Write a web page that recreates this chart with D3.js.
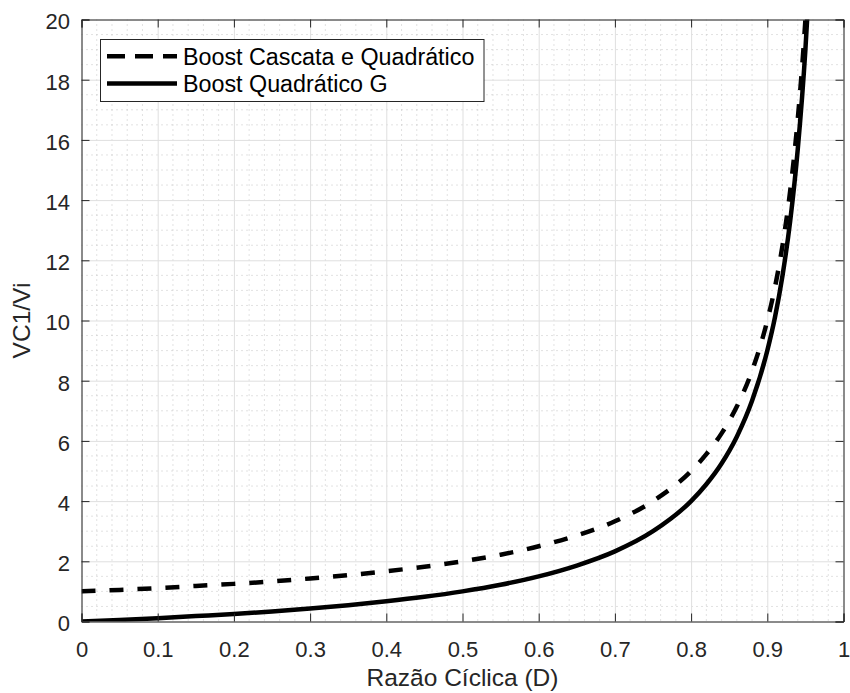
<!DOCTYPE html>
<html>
<head>
<meta charset="utf-8">
<script src="https://cdn.jsdelivr.net/npm/d3@7"></script>
<style>
  body { margin: 0; background: #fff; }
  svg { font-family: "Liberation Sans", Arial, sans-serif; }
</style>
</head>
<body>
<div class="chart"></div>
<script>
// duty cycle samples (x)
const dutyCycle = [0, 0.05, 0.1, 0.15, 0.2, 0.25, 0.3, 0.35, 0.4, 0.45, 0.5, 0.55, 0.6, 0.65, 0.7, 0.75, 0.8, 0.82, 0.84, 0.86, 0.88, 0.9, 0.91, 0.92, 0.93, 0.94, 0.95, 0.955];
const cascata = [1.00, 1.05, 1.11, 1.18, 1.25, 1.33, 1.43, 1.54, 1.67, 1.82, 2.00, 2.22, 2.50, 2.86, 3.33, 4.00, 5.00, 5.56, 6.25, 7.14, 8.33, 10.0, 11.1, 12.5, 14.3, 16.7, 20.0, 22.2];
const quadraticoG = [0, 0.05, 0.11, 0.18, 0.25, 0.33, 0.43, 0.54, 0.67, 0.82, 1.00, 1.22, 1.50, 1.86, 2.33, 3.00, 4.00, 4.56, 5.25, 6.14, 7.33, 9.00, 10.1, 11.5, 13.3, 15.7, 19.0, 21.2];
const seriesNames = ["Boost Cascata e Quadrático", "Boost Quadrático G"];
const xTicks = [0, 0.1, 0.2, 0.3, 0.4, 0.5, 0.6, 0.7, 0.8, 0.9, 1];
const yTicks = [0, 2, 4, 6, 8, 10, 12, 14, 16, 18, 20];

const width = 850, height = 693;
const margin = {left: 81.5, right: 6.5, top: 19.5, bottom: 71.5};
const plotW = width - margin.left - margin.right, plotH = height - margin.top - margin.bottom;
const axisColor = "#262626";

const x = d3.scaleLinear().domain([0, 1]).range([0, plotW]);
const y = d3.scaleLinear().domain([0, 20]).range([plotH, 0]);

const svg = d3.select(".chart").append("svg")
    .attr("width", width)
    .attr("height", height);

svg.append("defs").append("clipPath").attr("id", "clip")
  .append("rect").attr("width", plotW).attr("height", plotH);

const g = svg.append("g")
    .attr("transform", "translate(" + [margin.left, margin.top] + ")");

// minor grid (dotted)
const xMinor = d3.range(0, 1.0001, 0.02).filter(v => Math.abs(v * 10 - Math.round(v * 10)) > 1e-6);
const yMinor = d3.range(0, 20.0001, 0.5).filter(v => Math.abs(v / 2 - Math.round(v / 2)) > 1e-6);

g.selectAll("line.xminor")
    .data(xMinor)
  .enter().append("line")
    .attr("class", "xminor")
    .attr("x1", d => x(d)).attr("x2", d => x(d))
    .attr("y1", 0).attr("y2", plotH)
    .attr("stroke", "#c4c4c4")
    .attr("stroke-dasharray", "1,4");

g.selectAll("line.yminor")
    .data(yMinor)
  .enter().append("line")
    .attr("class", "yminor")
    .attr("y1", d => y(d)).attr("y2", d => y(d))
    .attr("x1", 0).attr("x2", plotW)
    .attr("stroke", "#c4c4c4")
    .attr("stroke-dasharray", "1,4");

// major grid
g.append("g")
    .attr("transform", "translate(0," + plotH + ")")
    .call(d3.axisBottom(x).tickValues(xTicks).tickSize(-plotH).tickFormat(""))
    .call(a => a.select(".domain").remove())
    .call(a => a.selectAll("line").attr("stroke", "#dfdfdf"));

g.append("g")
    .call(d3.axisLeft(y).tickValues(yTicks).tickSize(-plotW).tickFormat(""))
    .call(a => a.select(".domain").remove())
    .call(a => a.selectAll("line").attr("stroke", "#dfdfdf"));

// curves
const line = d3.line()
    .x((d, i) => x(dutyCycle[i]))
    .y(d => y(d))
    .curve(d3.curveMonotoneX);

const curves = g.append("g").attr("clip-path", "url(#clip)");

curves.append("path")
    .attr("d", line(quadraticoG))
    .attr("fill", "none")
    .attr("stroke", "#000")
    .attr("stroke-width", 4.5);

curves.append("path")
    .attr("d", line(cascata))
    .attr("fill", "none")
    .attr("stroke", "#000")
    .attr("stroke-width", 4.5)
    .attr("stroke-dasharray", "14,14");

// axes with inward ticks on all sides
const tickLen = 8;
const fmt = d => d3.format("")(d);

const axBottom = g.append("g")
    .attr("transform", "translate(0," + plotH + ")")
    .call(d3.axisBottom(x).tickValues(xTicks).tickSize(-tickLen).tickPadding(20).tickFormat(fmt));
const axLeft = g.append("g")
    .call(d3.axisLeft(y).tickValues(yTicks).tickSize(-tickLen).tickPadding(11.5).tickFormat(fmt));
const axTop = g.append("g")
    .call(d3.axisTop(x).tickValues(xTicks).tickSize(-tickLen).tickFormat(""));
const axRight = g.append("g")
    .attr("transform", "translate(" + plotW + ",0)")
    .call(d3.axisRight(y).tickValues(yTicks).tickSize(-tickLen).tickFormat(""));

[axBottom, axLeft, axTop, axRight].forEach(a => {
  a.select(".domain").attr("stroke", axisColor);
  a.selectAll(".tick line").attr("stroke", axisColor);
  a.selectAll("text")
      .attr("fill", axisColor)
      .style("font-size", "22px")
      .style("font-family", "'Liberation Sans', Arial, sans-serif");
});
axLeft.selectAll("text").attr("dy", "0.43em");

// axis titles
svg.append("text")
    .attr("x", margin.left + plotW / 2)
    .attr("y", 686)
    .attr("text-anchor", "middle")
    .attr("fill", axisColor)
    .style("font-size", "24.5px")
    .text("Razão Cíclica (D)");

svg.append("text")
    .attr("transform", "translate(" + [30, margin.top + plotH / 2] + ") rotate(-90)")
    .attr("text-anchor", "middle")
    .attr("fill", axisColor)
    .style("font-size", "24.5px")
    .text("VC1/Vi");

// legend
const legend = svg.append("g")
    .attr("transform", "translate(" + [100.5, 39.5] + ")");

legend.append("rect")
    .attr("width", 383.5)
    .attr("height", 62)
    .attr("fill", "#fff")
    .attr("stroke", axisColor)
    .attr("stroke-width", 1);

const legendRows = legend.selectAll("g.row")
    .data(seriesNames)
  .enter().append("g")
    .attr("class", "row")
    .attr("transform", (d, i) => "translate(0," + (16.7 + i * 27.3) + ")");

legendRows.append("line")
    .attr("x1", 6.5).attr("x2", 76.5)
    .attr("stroke", "#000")
    .attr("stroke-width", 4.5)
    .attr("stroke-dasharray", (d, i) => i === 0 ? "18,10" : null);

legendRows.append("text")
    .attr("x", 82.5)
    .attr("dy", "0.36em")
    .attr("fill", "#000")
    .style("font-size", "23.3px")
    .text(d => d);
</script>
</body>
</html>
